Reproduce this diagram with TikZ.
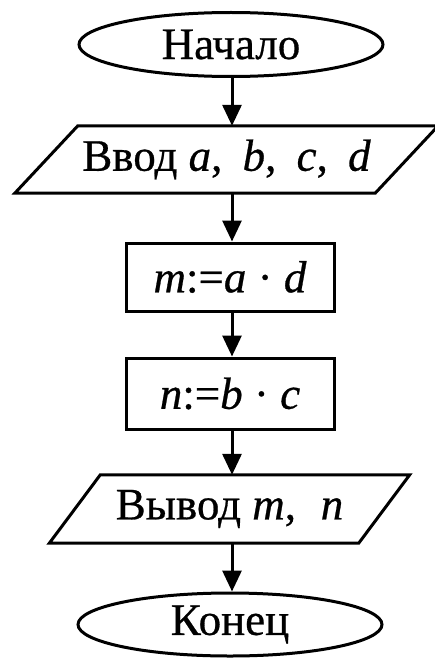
\documentclass[tikz,border=0pt]{standalone}
\usepackage{fontspec}
\setmainfont{Liberation Serif}[FakeBold=0.6]
\usetikzlibrary{shapes.geometric,arrows.meta}
\tikzset{
  x=1pt,y=-1pt,
  every node/.style={font=\fontsize{45}{54}\selectfont, inner sep=0pt},
  ln/.style={line width=3pt},
  term/.style={ellipse, draw, ln, minimum width=304pt, minimum height=64pt},
  proc/.style={rectangle, draw, ln, minimum width=208pt},
  iobox/.style={rectangle, minimum height=67pt},
  flow/.style={ln, -{Triangle[length=21pt,width=19pt]}}
}
\begin{document}
\begin{tikzpicture}
\useasboundingbox (0,0) rectangle (435,658);
\fill[white] (0,0) rectangle (435,658);
% terminals and blocks
\node[term] (start) at (231,44.5) {Начало};
\node[iobox, minimum width=360pt] (in) at (226.5,159.5) {Ввод \textit{a},\hspace{0.45em}\textit{b},\hspace{0.45em}\textit{c},\hspace{0.45em}\textit{d}};
\draw[ln] ([xshift=31.5pt]in.north west) -- ([xshift=31.5pt]in.north east)
          -- ([xshift=-31.5pt]in.south east) -- ([xshift=-31.5pt]in.south west) -- cycle;
\node[proc, minimum height=68pt] (m) at (230,277) {\textit{m}:=\textit{a} · \textit{d}};
\node[proc, minimum height=71pt] (n) at (230,393.5) {\textit{n}:=\textit{b} · \textit{c}};
\node[iobox, minimum width=309pt, minimum height=68pt] (out) at (229.5,509) {Вывод \textit{m},\hspace{0.55em}\textit{n}};
\draw[ln] ([xshift=25.5pt]out.north west) -- ([xshift=25.5pt]out.north east)
          -- ([xshift=-25.5pt]out.south east) -- ([xshift=-25.5pt]out.south west) -- cycle;
\node[term, minimum height=63pt] (end) at (230,624.5) {Конец};
% connectors
\draw[flow] ([xshift=1pt]start.south) -- ([xshift=1pt]start.south |- in.north);
\draw[flow] ([xshift=1pt]start.south |- in.south) -- ([xshift=1pt]start.south |- m.north);
\draw[flow] ([xshift=2pt]m.south) -- ([xshift=2pt]n.north);
\draw[flow] ([xshift=2pt]n.south) -- ([xshift=2pt]n.south |- out.north);
\draw[flow] ([xshift=2pt]n.south |- out.south) -- ([xshift=2pt]end.north);
\end{tikzpicture}
\end{document}
